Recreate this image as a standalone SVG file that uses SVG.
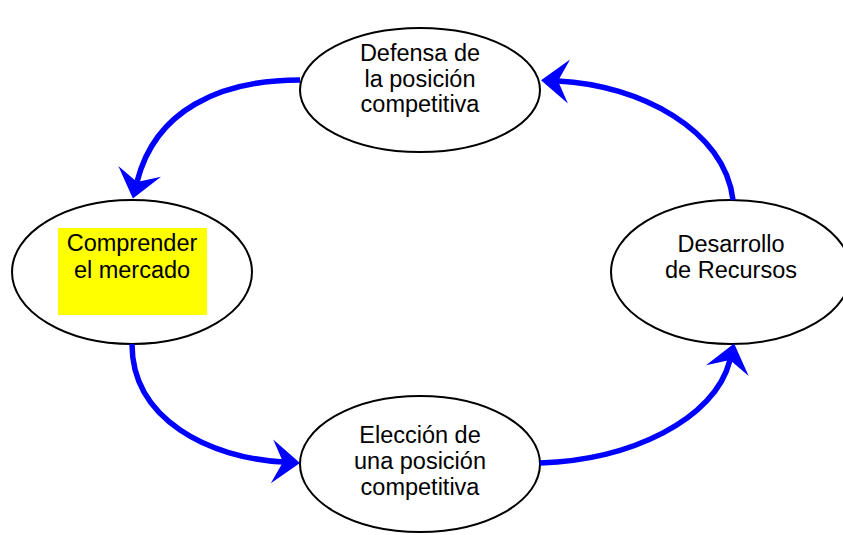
<svg xmlns="http://www.w3.org/2000/svg" width="843" height="535" viewBox="0 0 843 535">
<style>
.node ellipse{fill:#fff;stroke:#000;stroke-width:2}
.node text{font-family:"Liberation Sans",Arial,sans-serif;font-size:23.5px;fill:#000;text-anchor:middle}
.conn path{fill:none;stroke:#0000ff;stroke-width:5.5}
</style>
<defs>
<marker id="ah" markerUnits="userSpaceOnUse" viewBox="-12 -23 30 46" refX="0" refY="0" markerWidth="30" markerHeight="46" orient="auto" overflow="visible">
<path d="M17,0 L-11,-22 L0,0 L-11,22 Z" fill="#0000ff"/>
</marker>
</defs>
<rect width="843" height="535" fill="#fff"/>
<g id="defensa" class="node">
<ellipse cx="420" cy="90" rx="120" ry="62"/>
<text x="420" y="61">Defensa de</text>
<text x="420" y="87">la posición</text>
<text x="420" y="112">competitiva</text>
</g>
<g id="comprender" class="node">
<ellipse cx="132" cy="272" rx="120" ry="72"/>
<rect x="58" y="228" width="149" height="87" fill="#ffff00"/>
<text x="132" y="251">Comprender</text>
<text x="132" y="278">el mercado</text>
</g>
<g id="eleccion" class="node">
<ellipse cx="420" cy="464" rx="120" ry="68"/>
<text x="420" y="443">Elección de</text>
<text x="420" y="469">una posición</text>
<text x="420" y="495">competitiva</text>
</g>
<g id="desarrollo" class="node">
<ellipse cx="731" cy="272" rx="120" ry="72"/>
<text x="731" y="252">Desarrollo</text>
<text x="731" y="278">de Recursos</text>
</g>
<g id="connectors" class="conn">
<path d="M300,80 C220,80 155,110 137,182" marker-end="url(#ah)"/>
<path d="M132,344 C132,420 210,458 283,462" marker-end="url(#ah)"/>
<path d="M540,463 C630,460 715,420 730,360" marker-end="url(#ah)"/>
<path d="M733,200 C725,130 640,85 558,81" marker-end="url(#ah)"/>
</g>
</svg>
